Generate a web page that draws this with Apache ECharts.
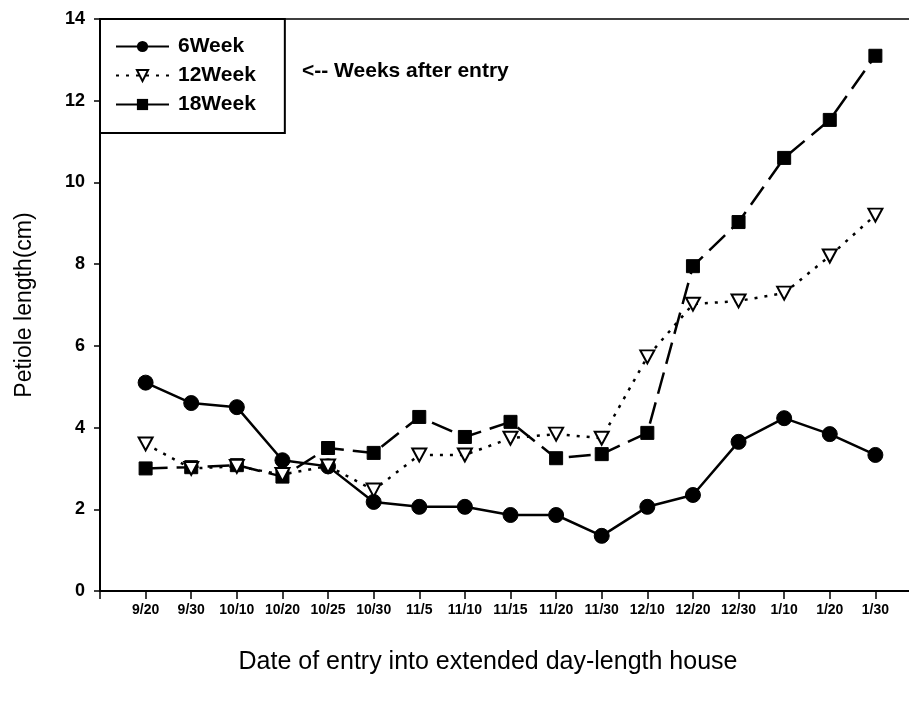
<!DOCTYPE html>
<html>
<head>
<meta charset="utf-8">
<script src="https://cdn.jsdelivr.net/npm/echarts@6/dist/echarts.min.js"></script>
<style>
  html, body { margin: 0; padding: 0; background: #fff; }
  #chart { width: 909px; height: 707px; }
</style>
</head>
<body>
<div id="chart"></div>
<script>
// Entry dates (one per sample)
const categories = ['9/20', '9/30', '10/10', '10/20', '10/25', '10/30', '11/5', '11/10', '11/15',
  '11/20', '11/30', '12/10', '12/20', '12/30', '1/10', '1/20', '1/30'];

// Petiole length (cm), measured 6, 12 and 18 weeks after entry
const week6  = [5.1, 4.6, 4.5, 3.2, 3.05, 2.18, 2.06, 2.06, 1.86, 1.86, 1.35, 2.06, 2.35, 3.65, 4.23, 3.84, 3.33];
const week12 = [3.6, 3.0, 3.05, 2.85, 3.06, 2.47, 3.33, 3.33, 3.74, 3.84, 3.74, 5.73, 7.02, 7.1, 7.29, 8.2, 9.2];
const week18 = [3.0, 3.03, 3.08, 2.8, 3.5, 3.38, 4.26, 3.77, 4.14, 3.25, 3.35, 3.87, 7.95, 9.03, 10.6, 11.53, 13.1];

const yTicks = [0, 2, 4, 6, 8, 10, 12, 14];

const FONT = '"Liberation Sans", Arial, Helvetica, sans-serif';

const toPoints = arr => arr.map((v, i) => [i + 1, v]);

const chart = echarts.init(document.getElementById('chart'), null, { renderer: 'canvas' });

chart.setOption({
  backgroundColor: '#fff',
  animation: false,
  grid: {
    left: 100, top: 19, width: 821, height: 572,
    outerBoundsMode: 'none',
    containLabel: false,
    show: true, borderColor: '#000', borderWidth: 1.5, backgroundColor: 'transparent'
  },
  legend: {
    orient: 'vertical',
    left: 100, top: 19,
    padding: [17, 29, 18, 15],
    itemGap: 8,
    itemWidth: 53, itemHeight: 14,
    borderColor: '#000', borderWidth: 2,
    textStyle: { fontFamily: FONT, fontSize: 21, fontWeight: 'bold', color: '#000', padding: [0, 0, 0, 4] },
    data: ['6Week', '12Week', '18Week']
  },
  xAxis: {
    type: 'value',
    min: 0, max: 18, interval: 1,
    axisLine: { lineStyle: { color: '#000', width: 2 } },
    axisTick: { show: true, inside: false, length: 8, lineStyle: { color: '#000', width: 1.5 } },
    splitLine: { show: false },
    axisLabel: {
      margin: 12,
      fontFamily: FONT, fontSize: 14, fontWeight: 'bold', color: '#000',
      formatter: v => (v >= 1 && v <= categories.length) ? categories[v - 1] : ''
    }
  },
  yAxis: {
    type: 'value',
    min: yTicks[0], max: yTicks[yTicks.length - 1], interval: 2,
    name: 'Petiole length(cm)',
    nameLocation: 'middle',
    nameGap: 64,
    nameRotate: 90,
    nameTextStyle: { fontFamily: FONT, fontSize: 23, color: '#000' },
    axisLine: { show: true, lineStyle: { color: '#000', width: 2 } },
    axisTick: { show: true, inside: false, length: 6, lineStyle: { color: '#000', width: 1.5 } },
    splitLine: { show: false },
    axisLabel: { margin: 15, fontFamily: FONT, fontSize: 18, fontWeight: 'bold', color: '#000' }
  },
  graphic: [
    {
      type: 'text', left: 302, top: 61,
      style: { text: '<-- Weeks after entry', fontFamily: FONT, fontSize: 21, fontWeight: 'bold', fill: '#000' }
    },
    {
      type: 'text', x: 488, y: 662,
      style: {
        text: 'Date of entry into extended day-length house',
        fontFamily: FONT, fontSize: 25, fill: '#000', align: 'center', verticalAlign: 'middle'
      }
    }
  ],
  series: [
    {
      name: '18Week', type: 'line', data: toPoints(week18), z: 2,
      symbol: 'rect', symbolSize: 13,
      lineStyle: { color: '#000', width: 2.5, type: [22, 9] },
      itemStyle: { color: '#000', borderColor: '#000' }
    },
    {
      name: '6Week', type: 'line', data: toPoints(week6), z: 3,
      symbol: 'circle', symbolSize: 15,
      lineStyle: { color: '#000', width: 2.5, type: 'solid' },
      itemStyle: { color: '#000', borderColor: '#000' }
    },
    {
      name: '12Week', type: 'line', data: toPoints(week12), z: 4,
      symbol: 'triangle', symbolRotate: 180, symbolSize: [14, 13],
      lineStyle: { color: '#000', width: 2.5, type: [3, 7] },
      itemStyle: { color: '#fff', borderColor: '#000', borderWidth: 2 }
    }
  ]
});
</script>
</body>
</html>
